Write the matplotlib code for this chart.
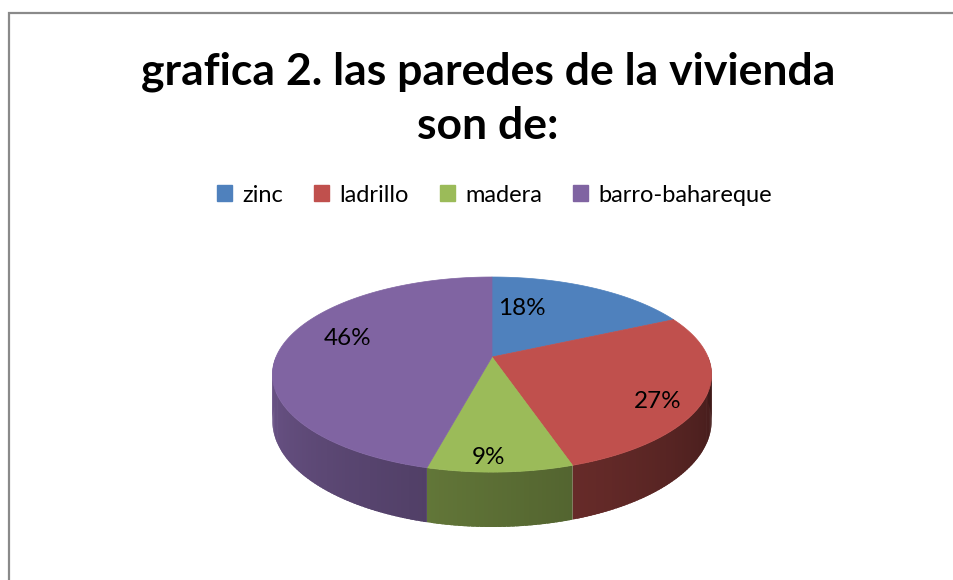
import numpy as np
import matplotlib
matplotlib.use('agg')
import matplotlib.pyplot as plt
from matplotlib.patches import Polygon, Patch
from matplotlib.colors import to_rgb

# data
categories = ['zinc', 'ladrillo', 'madera', 'barro-bahareque']
percentages = [18, 27, 9, 46]
colors = ['#4F81BD', '#C0504D', '#9BBB59', '#8064A2']
title = 'grafica 2. las paredes de la vivienda\nson de:'

plt.rcParams['font.family'] = ['Lato', 'DejaVu Sans']

W, H = 954, 580
fig = plt.figure(figsize=(W / 100, H / 100), dpi=100)
ax = fig.add_axes([0, 0, 1, 1])
ax.set_xlim(0, W)
ax.set_ylim(H, 0)
ax.axis('off')

# chart frame (only left/top edges fall inside the picture)
ax.plot([9.5, 9.5, W], [H, 12.5, 12.5], color='#8a8a8a', lw=1.6,
        solid_joinstyle='miter')

# 3d pie geometry, in pixels
cx, cy = 492, 357
rx, ry = 216, 94.4
k = 0.18      # perspective factor, far side looks smaller
depth = 45


def project(theta, r=1.0, drop=0.0):
    t = np.radians(theta)
    u, v = r * np.cos(t), r * np.sin(t)
    s = 1.0 / (1.0 + k * v)
    return cx + rx * u * s, cy - ry * v * s + drop * s


def shade(color, theta):
    # left side lighter, right side darker (excel style lighting)
    f = 0.86 - 0.54 * (theta - 180) / 180
    return tuple(c * f for c in to_rgb(color))


fracs = np.array(percentages) / sum(percentages)
starts = 90 - 360 * np.concatenate([[0], np.cumsum(fracs)[:-1]])
ends = starts - 360 * fracs

# side walls (front half only)
for a_hi, a_lo, col in zip(starts, ends, colors):
    for sh in (-360, 0, 360):
        lo, hi = max(a_lo + sh, 180), min(a_hi + sh, 360)
        if hi <= lo:
            continue
        edges = np.linspace(lo, hi, int(hi - lo) + 2)
        for t0, t1 in zip(edges[:-1], edges[1:]):
            t1x = min(t1 + 0.8, hi)
            tt = np.linspace(t0, t1x, 4)
            xt, yt = project(tt)
            xb, yb = project(tt[::-1], drop=depth)
            c = shade(col, (t0 + t1) / 2)
            pts = list(zip(xt, yt)) + list(zip(xb, yb))
            ax.add_patch(Polygon(pts, closed=True, facecolor=c, edgecolor='none'))

# top faces
for a_hi, a_lo, col in zip(starts, ends, colors):
    th = np.linspace(a_hi, a_lo, 200)
    xs, ys = project(th)
    pts = [(cx, cy)] + list(zip(xs, ys))
    ax.add_patch(Polygon(pts, closed=True, facecolor=col, edgecolor=col, lw=0.5))

# data labels, excel nudges them a bit from the mid-angle point
label_nudge = [(-45, 3), (15, 16), (-9, 22), (7, -10)]
for a_hi, a_lo, p, (nx, ny) in zip(starts, ends, percentages, label_nudge):
    lx, ly = project((a_hi + a_lo) / 2, r=0.72)
    ax.text(lx + nx, ly + ny, f'{p}%', ha='center', va='center', fontsize=17.5,
            color='black')

# title
ax.text(488, 99, title, ha='center', va='center', fontsize=32,
        fontweight='bold', linespacing=1.42, color='black')

# legend
handles = [Patch(facecolor=c, edgecolor=c) for c in colors]
ax.legend(handles, categories, loc='center', bbox_to_anchor=(494.5 / W, 1 - 195 / H),
          bbox_transform=fig.transFigure, ncol=4, frameon=False, fontsize=17,
          handlelength=0.64, handleheight=0.64, handletextpad=0.45,
          columnspacing=1.3, borderpad=0, borderaxespad=0)

plt.savefig('out.png', dpi=100)
